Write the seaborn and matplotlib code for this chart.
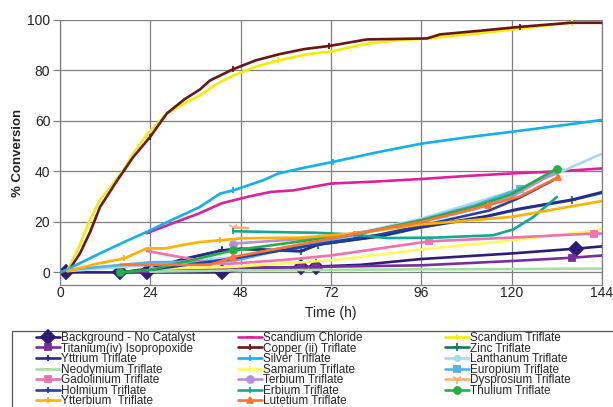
import matplotlib
matplotlib.use("Agg")
import matplotlib.pyplot as plt
import seaborn as sns
import pandas as pd
from matplotlib.patches import Rectangle

sns.set_theme(style="white")
plt.rcParams['font.family'] = ['Liberation Sans', 'DejaVu Sans']

# ---------------- data (time in h, % conversion) ----------------
bg_t = [1.5, 16, 23, 43, 48, 64, 68, 80, 96, 120, 137, 144]
bg_v = [0, 0, 0, 0, 1.0, 2.0, 2.3, 3.0, 5.3, 7.5, 9.4, 10.3]

scc_t = [23, 30, 37, 43, 50, 56, 62, 72, 84, 96, 108, 120, 132, 144]
scc_v = [15.5, 19.5, 23.4, 27.4, 30.0, 31.9, 32.5, 35.2, 36.0, 37.0, 38.2, 39.2, 40.0, 41.2]

sct_t = [0, 2, 5, 8, 10.6, 14, 16.8, 19.4, 23, 28.4, 33, 37, 42, 46, 52, 58, 66, 72, 81, 90, 96, 110, 122, 136]
sct_v = [0, 1, 10, 21, 28.6, 35, 40.5, 47, 54.4, 63, 67, 70, 75, 78, 81.5, 84, 86.5, 87.5, 90.5, 92, 92.5, 94.5, 96.5, 99]

ti_t = [16, 24, 43, 48, 64, 68, 96, 120, 136, 144]
ti_v = [0, 0.3, 1.5, 2.0, 2.0, 2.2, 2.8, 4.5, 5.8, 6.7]

cu_t = [0, 2, 5.3, 8, 10.6, 15, 19.4, 23.9, 28.4, 33, 37.2, 39.8, 46, 52, 58.4, 65, 71.5, 81.5, 97.5, 101, 112, 122.3, 135.6, 144]
cu_v = [0, 0, 7.5, 16, 25.8, 36, 45.6, 53.6, 63, 68.5, 72.5, 76, 80.5, 84, 86.5, 88.5, 89.7, 92.3, 92.7, 94.3, 95.8, 97.3, 98.9, 98.9]

zn_t = [16, 24, 33, 43, 48, 64, 68.6, 85, 96, 113, 122, 136, 144]
zn_v = [0, 1.2, 5.2, 8.7, 9.2, 8.3, 11.0, 14.2, 17.8, 22.0, 25.0, 28.6, 31.5]

y_t = [16, 24, 33, 43, 48, 64, 68.6, 85, 96, 113, 122, 136, 144]
y_v = [0, 1.5, 5.4, 8.7, 9.4, 8.5, 11.0, 14.4, 18.0, 22.2, 25.2, 28.8, 31.8]

ag_t = [0, 1, 3, 10.6, 17, 24, 30, 37, 42.5, 46, 54, 58, 65, 72.6, 84, 96, 108, 120, 132, 144]
ag_v = [0, 0.5, 2, 7.5, 12, 16.7, 21, 25.8, 31.2, 32.5, 36.5, 39.2, 41.5, 43.8, 47.5, 51, 53.5, 55.7, 58, 60.4]

la_t = [2, 24, 46, 62, 79, 96, 110, 122.3, 131, 144]
la_v = [0.5, 3.0, 6.0, 10.5, 15.5, 21.3, 27.5, 33.2, 38.5, 47]

nd_t = [24, 48, 72, 96, 120, 144]
nd_v = [0.3, 0.8, 1.0, 1.2, 1.3, 1.5]

sm_t = [24, 45, 72, 98, 120, 142, 144]
sm_v = [1.5, 2.1, 4.8, 9.4, 12.7, 16.5, 17.3]

eu_t = [2, 24, 46, 62, 79, 96, 110, 122.3, 132]
eu_v = [1.0, 4.0, 4.5, 10.0, 15.0, 20.8, 26.5, 33.2, 39.5]

gd_t = [23, 34, 40, 45, 60, 72, 85, 98, 120, 142, 144]
gd_v = [8.5, 5.5, 3.6, 3.4, 5.0, 6.7, 9.5, 12.3, 13.8, 15.4, 15.4]

tb_t = [46, 60, 72, 85, 96, 110, 120, 132]
tb_v = [11.4, 12.8, 14.2, 17.0, 20.0, 25.0, 30.0, 40.0]

dy_t = [46, 50]
dy_v = [17.8, 17.5]

ho_t = [24, 46, 60, 72, 85, 96, 114, 122, 131]
ho_v = [1.0, 5.5, 9.0, 12.0, 15.0, 18.5, 24.5, 29.5, 36.5]

er_t = [46, 56, 68, 78, 86.8, 100, 115, 120.4, 125.8, 132]
er_v = [16.3, 16.0, 15.7, 15.0, 13.6, 13.8, 14.7, 17.0, 22.0, 29.9]

tm_t = [16, 24, 46, 60, 72, 78, 96, 110, 120, 132]
tm_v = [0, 1.0, 8.7, 11.5, 14.0, 15.0, 20.6, 26.0, 31.0, 41.1]

yb_t = [2, 6, 10, 17, 23, 28, 32, 37, 42.5, 48, 64, 79, 96, 120, 144]
yb_v = [0.5, 2.0, 3.5, 5.5, 9.5, 9.5, 10.7, 12.0, 12.7, 13.5, 13.8, 15.5, 19.0, 22.0, 28.3]

lu_t = [16, 24, 40, 46, 60, 72, 96, 113.8, 122, 132.4]
lu_v = [3.0, 3.0, 3.0, 6.1, 10.0, 13.5, 20.0, 26.6, 30.0, 37.8]

names = ["Background - No Catalyst", "Scandium Chloride", "Scandium Triflate",
         "Titanium(iv) Isopropoxide", "Copper (ii) Triflate", "Zinc Triflate",
         "Yttrium Triflate", "Silver Triflate", "Lanthanum Triflate",
         "Neodymium Triflate", "Samarium Triflate", "Europium Triflate",
         "Gadolinium Triflate", "Terbium Triflate", "Dysprosium Triflate",
         "Holmium Triflate", "Erbium Triflate", "Thulium Triflate",
         "Ytterbium  Triflate", "Lutetium Triflate"]
series_t = [bg_t, scc_t, sct_t, ti_t, cu_t, zn_t, y_t, ag_t, la_t, nd_t, sm_t,
            eu_t, gd_t, tb_t, dy_t, ho_t, er_t, tm_t, yb_t, lu_t]
series_v = [bg_v, scc_v, sct_v, ti_v, cu_v, zn_v, y_v, ag_v, la_v, nd_v, sm_v,
            eu_v, gd_v, tb_v, dy_v, ho_v, er_v, tm_v, yb_v, lu_v]

colors = ["#2e1c7a", "#e0209a", "#f2ee00", "#7a2e9e", "#6b1616", "#17785a",
          "#2a2a8c", "#12b0ee", "#a6daf2", "#a6dea6", "#fbfb5a", "#52b2ea",
          "#f070b0", "#b88ed8", "#ffb070", "#2242a2", "#12a892", "#22b044",
          "#ffb000", "#ff7232"]
markers = ["D", "_", "|", "s", "|", "+", "+", "|", "o", "_", "|", "s",
           "s", "o", "1", "+", "|", "o", "+", "^"]
msizes = [7, 5, 5, 4, 4, 6, 4, 4, 4, 5, 5, 5, 5, 5, 7, 4, 5, 5, 5, 5]
# indices of the points that carry a visible marker
mark_idx = [[0, 1, 2, 3, 5, 6, 10], [0, 7], [8, 15, 23], [4, 5, 8],
            [7, 12, 16, 21], [0, 3, 5, 6, 11], [3], [9, 13],
            [7], [5], [5], [4, 7], [7, 9], [0], [0], [], [0], [0, 2, 9],
            [3, 8], [3, 7, 9]]

fig = plt.figure(figsize=(6.13, 4.07), dpi=100)
ax = fig.add_axes([60 / 613, 1 - 285 / 407, 542 / 613, 265 / 407])

for i, (name, t, v) in enumerate(zip(names, series_t, series_v)):
    df = pd.DataFrame({"t": t, "v": v})
    sns.lineplot(data=df, x="t", y="v", ax=ax, color=colors[i], linewidth=1.9,
                 label=name, legend=False, marker=markers[i],
                 markersize=msizes[i], markeredgewidth=1.3,
                 markeredgecolor=colors[i], markerfacecolor=colors[i],
                 markevery=mark_idx[i])

ax.set_xlim(0, 144)
ax.set_ylim(-5, 100)
ax.set_xticks([0, 24, 48, 72, 96, 120, 144])
ax.set_yticks([0, 20, 40, 60, 80, 100])
ax.grid(True, color="#7f7f7f", linewidth=0.9)
for s in ax.spines.values():
    s.set_color("#7f7f7f")
    s.set_linewidth(0.9)
ax.spines["top"].set_visible(False)
ax.tick_params(axis="y", which="both", left=True, length=5, width=0.9,
               color="#7f7f7f", pad=2, labelsize=10, labelcolor="#222222")
ax.tick_params(axis="x", which="both", bottom=False, length=0, pad=1,
               labelsize=10, labelcolor="#222222")
ax.set_xlabel("Time (h)", fontsize=10, labelpad=4, color="#222222")
ax.set_ylabel("% Conversion", fontsize=9.5, fontweight="bold", labelpad=2,
              color="#222222")

# legend: three fixed-position columns inside one frame
handles, labels = ax.get_legend_handles_labels()
fig.patches.append(Rectangle((12 / 613, -0.05), 1.1, 1 - 331 / 407 + 0.05,
                             transform=fig.transFigure, fill=False,
                             edgecolor="#555555", linewidth=0.9))
col_x = [36 / 613, 238 / 613, 445 / 613]
for c in range(3):
    h = handles[c::3]
    l = labels[c::3]
    fig.legend(h, l, loc="upper left", bbox_to_anchor=(col_x[c], 1 - 332 / 407),
               frameon=False, fontsize=8.5, handlelength=2.0, handletextpad=0.15,
               labelspacing=-0.12, borderpad=0, borderaxespad=0, numpoints=1)

fig.savefig("out.png", dpi=100)
